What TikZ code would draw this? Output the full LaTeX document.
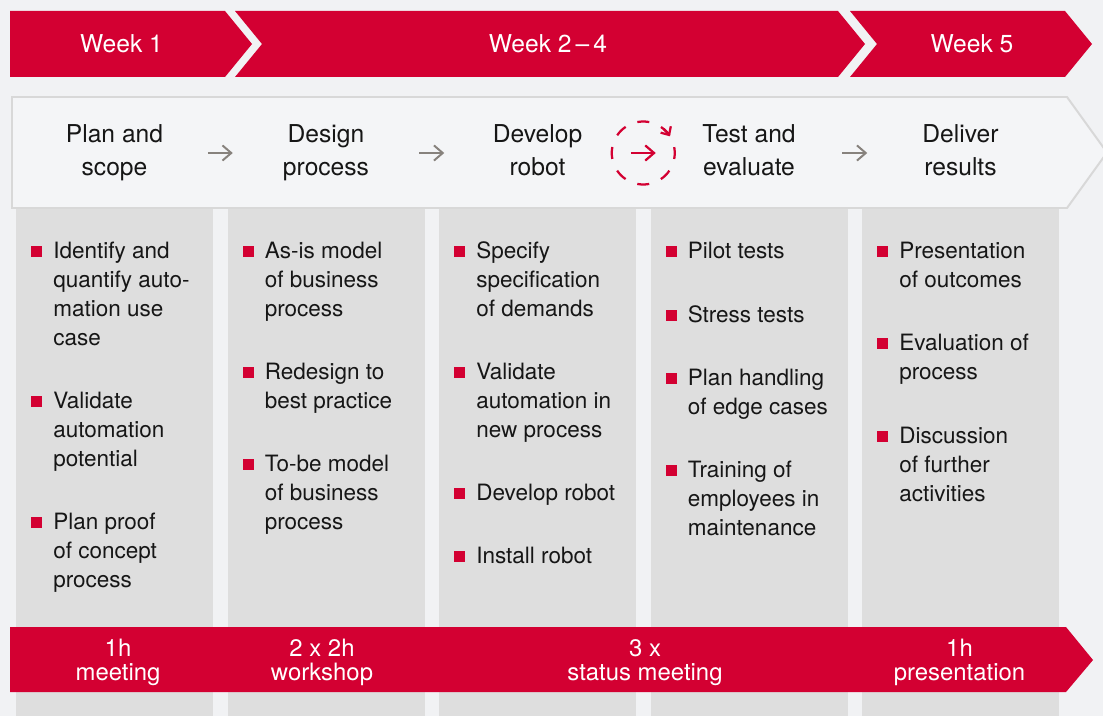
\documentclass[tikz,border=0pt]{standalone}
\usepackage{fontspec}
\setmainfont{TeX Gyre Heros}
\usetikzlibrary{arrows.meta,calc}

\definecolor{bannerred}{RGB}{211,0,50}
\definecolor{pagegray}{RGB}{241,242,244}
\definecolor{colgray}{RGB}{222,222,222}
\definecolor{boxfill}{RGB}{244,245,247}
\definecolor{boxline}{RGB}{216,216,216}
\definecolor{arrowgray}{RGB}{135,130,125}
\definecolor{textdark}{RGB}{22,22,22}

\begin{document}
\begin{tikzpicture}[x=0.025cm,y=-0.025cm,
  week/.style={text=white,font=\fontsize{17.5}{21}\selectfont,anchor=base,inner sep=0},
  phase/.style={text=textdark,font=\fontsize{17.5}{22.8}\selectfont,align=center,anchor=base,inner sep=0},
  item/.style={text=textdark,font=\fontsize{16}{20.6}\selectfont,align=left,anchor=base west,inner sep=0},
  bsq/.style={fill=bannerred,minimum size=0.275cm,inner sep=0},
  effort/.style={text=white,font=\fontsize{17}{16.4}\selectfont,align=center,anchor=base,inner sep=0},
  grar/.style={arrowgray,line width=1.4pt,-{Straight Barb[length=0.22cm,width=0.38cm]}},
  redar/.style={bannerred,line width=1.6pt,-{Straight Barb[length=0.22cm,width=0.38cm]}},
]

\useasboundingbox (0,0) rectangle (1103,716);
\fill[pagegray] (0,0) rectangle (1103,716);

\fill[colgray] (16,208) rectangle ++(197,508);
\fill[colgray] (227.5,208) rectangle ++(197,508);
\fill[colgray] (439,208) rectangle ++(197,508);
\fill[colgray] (650.5,208) rectangle ++(197,508);
\fill[colgray] (862,208) rectangle ++(197,508);

\fill[bannerred] (10,11) -- (225,11) -- (252,44) -- (225,77) -- (10,77) -- cycle;
\fill[bannerred] (235,11) -- (838,11) -- (865,44) -- (838,77) -- (235,77) -- (262,44) -- cycle;
\fill[bannerred] (850,11) -- (1065,11) -- (1092,44) -- (1065,77) -- (850,77) -- (877,44) -- cycle;
\node[week] (w1) at (121.5,53) {Week 1};
\node[week] (w24) at (548,53) {Week 2\,–\,4};
\node[week] (w5) at (972,53) {Week 5};

\draw[boxline,fill=boxfill,line width=1.4pt] (12,97) -- (1067,97) -- (1107,152.5) -- (1067,208) -- (12,208) -- cycle;

\node[phase] (h1) at (114.5,175) {Plan and\\scope};
\node[phase] (h2) at (326,175) {Design\\process};
\node[phase] (h3) at (537.5,175) {Develop\\robot};
\node[phase] (h4) at (749,175) {Test and\\evaluate};
\node[phase] (h5) at (960.5,175) {Deliver\\results};

\path (h1.base) -- (h2.base) coordinate[pos=.5] (m12);
\path (h2.base) -- (h3.base) coordinate[pos=.5] (m23);
\path (h3.base) -- (h4.base) coordinate[pos=.5] (m34);
\path (h4.base) -- (h5.base) coordinate[pos=.5] (m45);
\draw[grar] ($(m12)+(-12.5,-22)$) -- ($(m12)+(12.5,-22)$);
\draw[grar] ($(m23)+(-12.5,-22)$) -- ($(m23)+(12.5,-22)$);
\draw[grar] ($(m45)+(-12.5,-22)$) -- ($(m45)+(12.5,-22)$);

\coordinate (loop) at ($(m34)+(0,-22)$);
\draw[bannerred,line width=1.6pt,dash pattern=on 0.3cm off 0.3185cm,dash phase=0.15cm] (loop) circle[radius=31.5];
\draw[redar] ($(loop)+(-12.5,0)$) -- ($(loop)+(12.5,0)$);
\draw[bannerred,line width=1.6pt,-{Straight Barb[length=0.16cm,width=0.3cm]}] (loop) ++(310:31.5) arc[start angle=310,end angle=328,radius=31.5];

\node[item] (c1a) at (53,345) {Identify and\\quantify auto-\\mation use\\case};
\node[item] (c1b) at (53,466) {Validate\\automation\\potential};
\node[item] (c1c) at (53,587) {Plan proof\\of concept\\process};
\node[bsq] (s1a) at (36.5,251) {};
\node[bsq] (s1b) at (36.5,401) {};
\node[bsq] (s1c) at (36.5,522) {};

\node[item] (c2a) at (264.5,316) {As-is model\\of business\\process};
\node[item] (c2b) at (264.5,408) {Redesign to\\best practice};
\node[item] (c2c) at (264.5,529) {To-be model\\of business\\process};
\node[bsq] (s2a) at (248,251) {};
\node[bsq] (s2b) at (248,372) {};
\node[bsq] (s2c) at (248,464) {};

\node[item] (c3a) at (476,316) {Specify\\specification\\of demands};
\node[item] (c3b) at (476,437) {Validate\\automation in\\new process};
\node[item] (c3c) at (476,500) {Develop robot};
\node[item] (c3d) at (476,563) {Install robot};
\node[bsq] (s3a) at (459.5,251) {};
\node[bsq] (s3b) at (459.5,372) {};
\node[bsq] (s3c) at (459.5,493) {};
\node[bsq] (s3d) at (459.5,556) {};

\node[item] (c4a) at (687.5,258) {Pilot tests};
\node[item] (c4b) at (687.5,322) {Stress tests};
\node[item] (c4c) at (687.5,414) {Plan handling\\of edge cases};
\node[item] (c4d) at (687.5,535) {Training of\\employees in\\maintenance};
\node[bsq] (s4a) at (671,251) {};
\node[bsq] (s4b) at (671,315) {};
\node[bsq] (s4c) at (671,378) {};
\node[bsq] (s4d) at (671,470) {};

\node[item] (c5a) at (899,287) {Presentation\\of outcomes};
\node[item] (c5b) at (899,379) {Evaluation of\\process};
\node[item] (c5c) at (899,501) {Discussion\\of further\\activities};
\node[bsq] (s5a) at (882.5,251) {};
\node[bsq] (s5b) at (882.5,343) {};
\node[bsq] (s5c) at (882.5,436) {};

\fill[bannerred] (10,627) -- (1066,627) -- (1093,660) -- (1066,692) -- (10,692) -- cycle;
\node[effort] (e1) at (118,680) {1h\\meeting};
\node[effort] (e2) at (322,680) {2 x 2h\\workshop};
\node[effort] (e3) at (645,680) {3 x\\status meeting};
\node[effort] (e4) at (959.5,680) {1h\\presentation};

\end{tikzpicture}
\end{document}
